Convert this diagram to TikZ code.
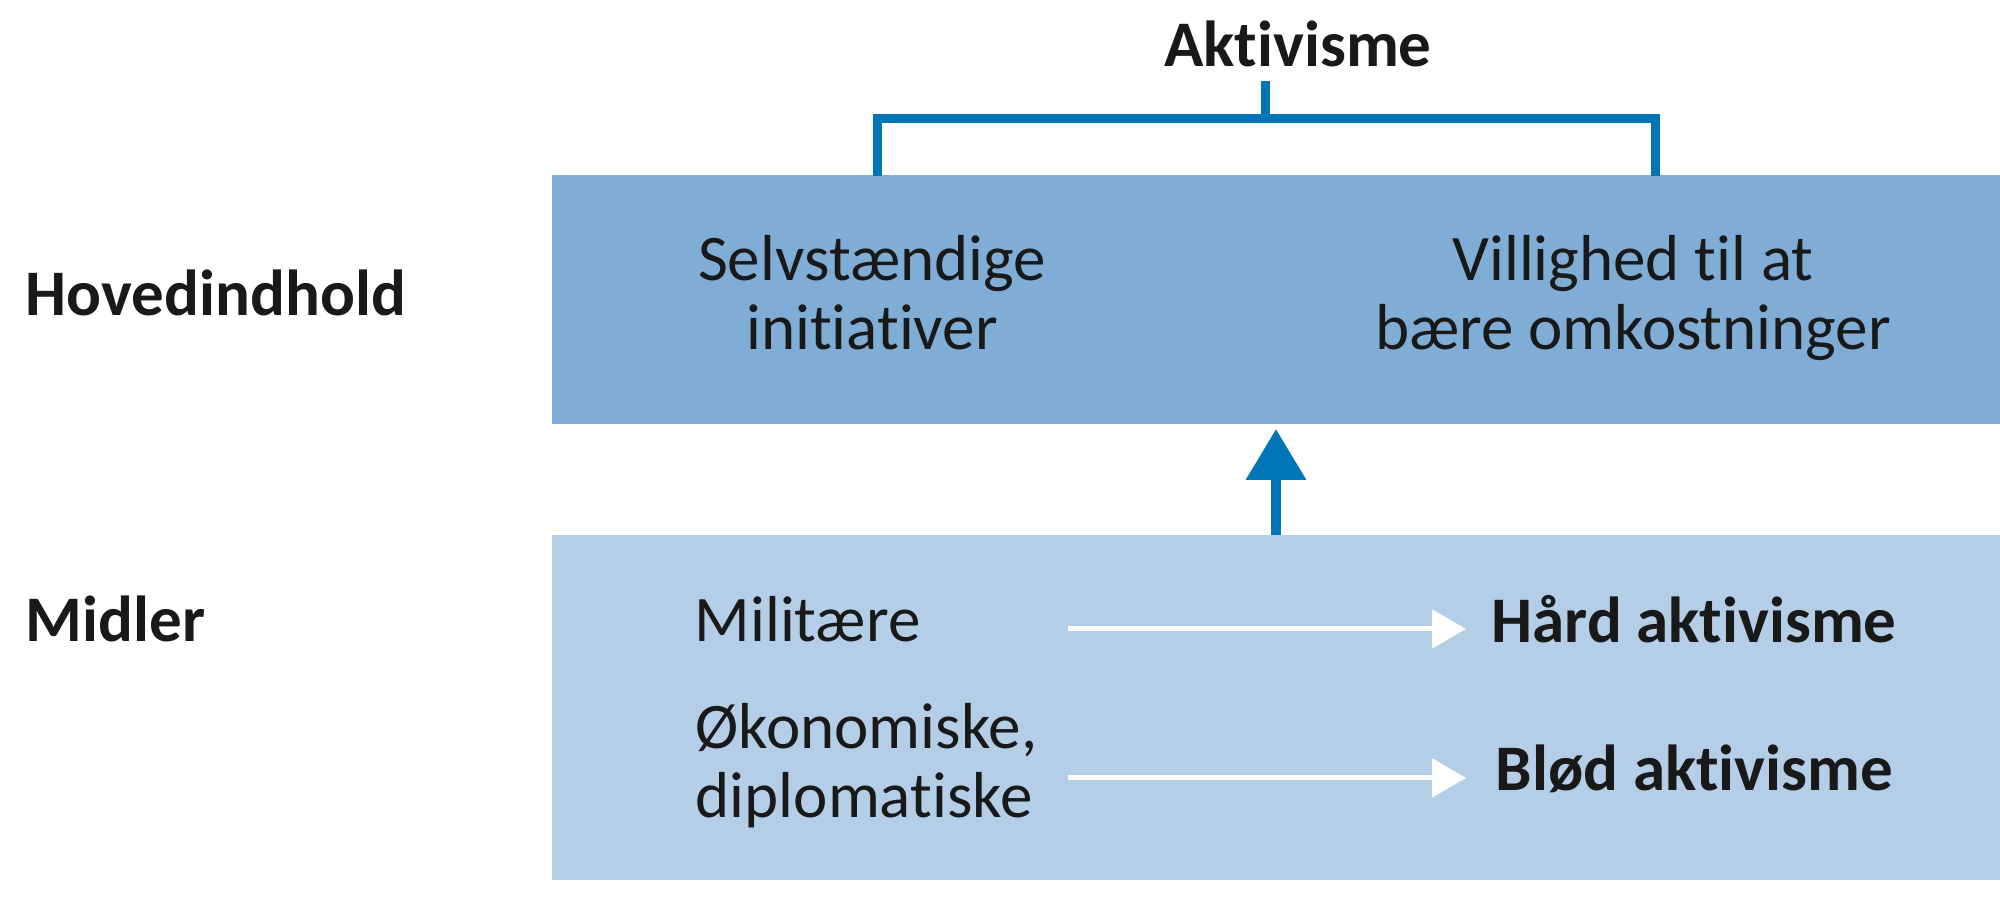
\documentclass[tikz,border=0pt]{standalone}
\usepackage{fontspec}
\setmainfont{Carlito}[Ligatures=NoCommon]
\usetikzlibrary{arrows.meta, positioning}

\definecolor{aktblue}{RGB}{0,118,182}
\definecolor{topfill}{RGB}{127,173,214}
\definecolor{lowfill}{RGB}{181,206,231}
\tikzset{
  txt/.style={inner sep=0, text=black!90, font=\fontsize{18.5}{19.9}\selectfont},
  bold/.style={txt, font=\fontsize{18.5}{19.9}\selectfont\bfseries},
  panel/.style={inner sep=0, anchor=south west, minimum width=14.49cm},
  bracket/.style={aktblue, line width=0.09cm},
  whitearrow/.style={white, line width=0.05cm, -{Triangle[length=0.34cm,width=0.38cm]}},
}

\begin{document}
\begin{tikzpicture}
\useasboundingbox (0,0) rectangle (20,9.22);
% felter
\node[panel, fill=topfill, minimum height=2.49cm] (topbox) at (5.51,4.97) {};
\node[panel, fill=lowfill, minimum height=3.45cm] (lowbox) at (5.51,0.41) {};

% venstre kolonne
\node[bold, anchor=base west] (hoved) at (0.25,6.06) {Hovedindhold};
\node[bold, anchor=base west] (midler) at (0.25,2.80) {Midler};

% aktivisme og klammen
\node[bold, anchor=base] (akt) at (12.98,8.55) {Aktivisme};
\coordinate (stem) at (12.65,8.41);
\coordinate (legL) at (8.77,7.46);
\coordinate (legR) at (16.55,7.46);
\draw[bracket] (stem) -- (stem |- 0,8.03);
\draw[bracket] (legL) |- (legR |- 0,8.03) -- (legR);

\node[txt, align=center, anchor=base] (selv) at (8.72,5.72) {Selvstændige\\initiativer};
\node[txt, align=center, anchor=base] (vill) at (16.33,5.72) {Villighed til at\\bære omkostninger};

% pil op
\coordinate (upx) at (12.76,0);
\draw[aktblue, line width=0.1cm, -{Triangle[length=0.51cm,width=0.58cm]}, shorten >=0.04cm]
  (lowbox.north -| upx) -- (topbox.south -| upx);

% midler
\node[txt, anchor=base west] (mil) at (6.94,2.80) {Militære};
\node[txt, align=left, anchor=base west] (oko) at (6.95,1.04) {Økonomiske,\\diplomatiske};
\node[bold, anchor=base west] (hard) at (14.91,2.79) {Hård aktivisme};
\node[bold, anchor=base west] (blod) at (14.95,1.31) {Blød aktivisme};
\coordinate (milend) at (10.68,2.93);
\coordinate (okoend) at (10.68,1.44);
\draw[whitearrow, shorten >=0.25cm] (milend) -- (milend -| hard.west);
\draw[whitearrow, shorten >=0.29cm] (okoend) -- (okoend -| blod.west);
\end{tikzpicture}
\end{document}
